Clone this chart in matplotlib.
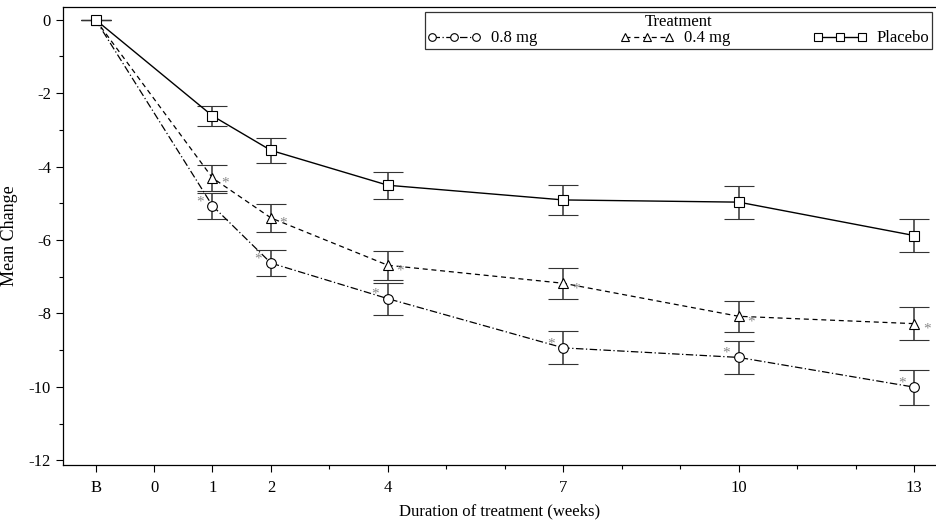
import numpy as np
import matplotlib.pyplot as plt
from matplotlib.lines import Line2D
from matplotlib.ticker import FixedLocator

plt.rcParams['font.family'] = ['Liberation Serif', 'DejaVu Serif']

# x positions: B (baseline) is drawn at -1
weeks = [-1, 1, 2, 4, 7, 10, 13]
tick_pos = [-1, 0, 1, 2, 4, 7, 10, 13]
tick_labels = ["B", "0", "1", "2", "4", "7", "10", "13"]
minor_pos = [3, 5, 6, 8, 9, 11, 12]

mean_08 = [0, -5.07, -6.63, -7.60, -8.94, -9.20, -10.01]
err_08 = [0, 0.35, 0.36, 0.44, 0.45, 0.45, 0.48]
sig_08 = [0, 1, 1, 1, 1, 1, 1]

mean_04 = [0, -4.31, -5.40, -6.69, -7.18, -8.08, -8.28]
err_04 = [0, 0.35, 0.37, 0.40, 0.42, 0.43, 0.45]
sig_04 = [0, 1, 1, 1, 1, 1, 1]

mean_pl = [0, -2.62, -3.56, -4.51, -4.91, -4.97, -5.88]
err_pl = [0, 0.27, 0.35, 0.37, 0.41, 0.45, 0.46]

styles_08 = dict(color="black", ls=(0, (6, 2, 1, 2)), lw=0.9, marker="o")
styles_04 = dict(color="black", ls=(0, (4, 3)), lw=0.9, marker="^")
styles_pl = dict(color="black", ls="-", lw=1.0, marker="s")

fig = plt.figure(figsize=(9.37, 5.26), dpi=100)
ax = fig.add_axes([0.067, 0.116, 0.933, 0.871])

for m, e, st in [(mean_08, err_08, styles_08), (mean_04, err_04, styles_04),
                 (mean_pl, err_pl, styles_pl)]:
    ax.errorbar(weeks, m, yerr=e, ms=7, mfc="white", mec="black", mew=0.8,
                ecolor="#333333", elinewidth=1.1, capsize=11, capthick=1.1, **st)

# significance stars
for x, y, s in zip(weeks, mean_04, sig_04):
    if s:
        ax.annotate("*", (x, y), xytext=(9, -4), textcoords="offset points",
                    color="#888888", fontsize=11, ha="center", va="center")
for x, y, s in zip(weeks, mean_08, sig_08):
    if s:
        ax.annotate("*", (x, y), xytext=(-9, 3), textcoords="offset points",
                    color="#888888", fontsize=11, ha="center", va="center")

ax.set_xlim(-1.56, 13.39)
ax.set_ylim(-12.13, 0.35)
ax.set_xticks(tick_pos)
ax.set_xticklabels(tick_labels)
ax.xaxis.set_minor_locator(FixedLocator(minor_pos))
ax.set_yticks([0, -2, -4, -6, -8, -10, -12])
ax.set_yticklabels(["0", "-2", "-4", "-6", "-8", "-10", "-12"])
ax.yaxis.set_minor_locator(FixedLocator([-1, -3, -5, -7, -9, -11]))
ax.tick_params(axis="both", which="major", length=5, width=0.8, labelsize=12, direction="out")
ax.tick_params(axis="both", which="minor", length=3, width=0.8, direction="out")
ax.tick_params(axis="x", pad=6)

ax.set_xlabel("Duration of treatment (weeks)", fontsize=12, labelpad=5)
ax.set_ylabel("Mean Change", fontsize=13, labelpad=8)

for sp in ax.spines.values():
    sp.set_linewidth(0.9)

handles = [Line2D([], [], ms=5.5, mfc="white", mec="black", mew=0.8, **st)
           for st in (styles_08, styles_04, styles_pl)]
leg = ax.legend(handles, ["0.8 mg", "0.4 mg", "Placebo"], title="Treatment", ncol=3,
                loc="upper right", bbox_to_anchor=(1.0, 1.0), numpoints=3,
                fancybox=False, frameon=True, edgecolor="black", fontsize=12,
                title_fontsize=12, handlelength=3.2, columnspacing=5.0,
                borderpad=0.15, labelspacing=0.1, handletextpad=0.6, borderaxespad=0.3)
leg.get_frame().set_linewidth(0.9)
leg._legend_box.sep = 0

plt.savefig("out.png", dpi=100)
